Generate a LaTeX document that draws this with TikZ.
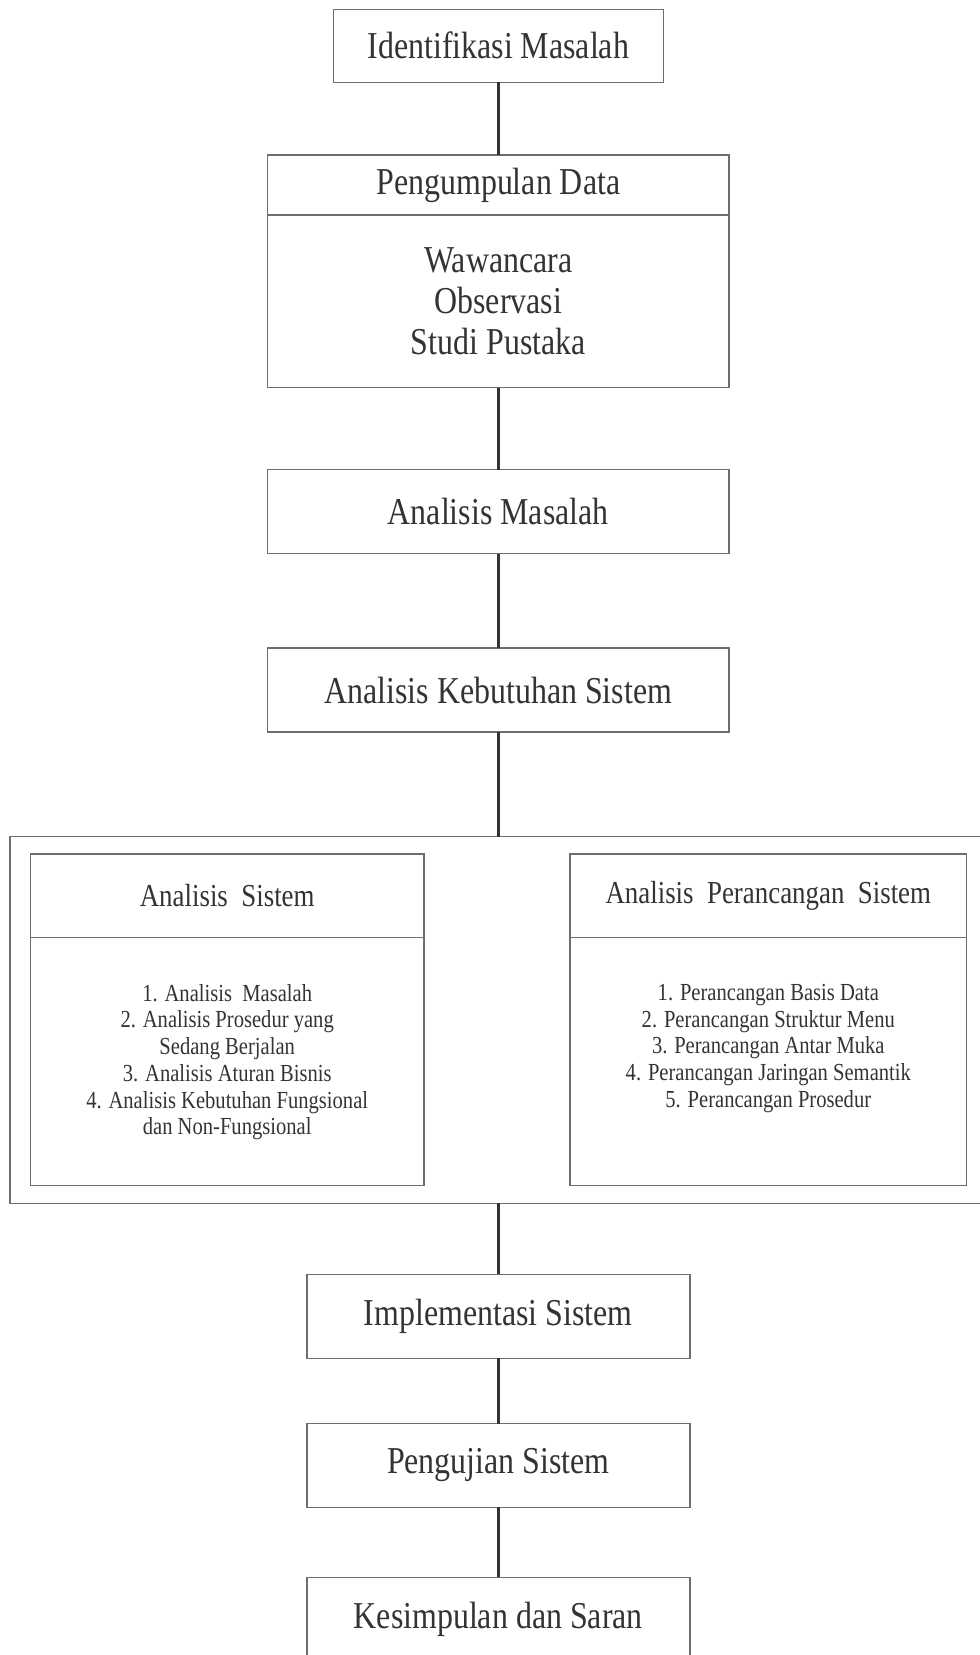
\documentclass[tikz,border=0pt]{standalone}
\usepackage{fontspec}
\setmainfont{Liberation Serif}[FakeStretch=0.84]
\definecolor{boxgray}{HTML}{6E6E6E}
\definecolor{inkgray}{HTML}{333333}
\newcommand{\midx}{498.3}

\begin{document}
\begin{tikzpicture}[x=1pt,y=-1pt,
  stage/.style={draw=boxgray,line width=1.5pt,inner sep=0pt,outer sep=0pt,text=inkgray,align=center,font=\fontsize{38}{40.7}\selectfont},
  subhead/.style={stage,font=\fontsize{32}{34}\selectfont},
  items/.style={inner sep=0pt,text=inkgray,align=center,font=\fontsize{24.5}{26.7}\selectfont},
  link/.style={draw=inkgray,line width=3pt}]
  \useasboundingbox (0,0) rectangle (980,1655);
  \clip (0,0) rectangle (980,1655);

  \node[stage,minimum width=330,minimum height=73] (identifikasi) at (\midx,45.8) {Identifikasi Masalah};
  \node[stage,minimum width=461.3,minimum height=60] (pengumpulan) at (\midx,185) {Pengumpulan Data};
  \node[stage,minimum width=461.3,minimum height=172.7] (metode) at (\midx,301.3) {Wawancara\\Observasi\\Studi Pustaka};
  \node[stage,minimum width=461.3,minimum height=84] (masalah) at (\midx,511.7) {Analisis Masalah};
  \node[stage,minimum width=461.3,minimum height=84] (kebutuhan) at (\midx,690) {Analisis Kebutuhan Sistem};

  \node[stage,minimum width=985,minimum height=366.6] (wadah) at (502.5,1020) {};
  \node[subhead,minimum width=393.7,minimum height=83.3] (sistemHead) at (227.2,895.7) {Analisis\ \ Sistem};
  \node[stage,minimum width=393.7,minimum height=248.4] (sistemBody) at (227.2,1061.5) {};
  \node[subhead,minimum width=396.7,minimum height=83.3] (rancangHead) at (768.3,895.7) {Analisis\ \ Perancangan\ \ Sistem};
  \node[stage,minimum width=396.7,minimum height=248.4] (rancangBody) at (768.3,1061.5) {};
  \node[items,anchor=north] (sistemList) at (227.2,984) {1. Analisis\ \ Masalah\\2. Analisis Prosedur yang\\Sedang Berjalan\\3. Analisis Aturan Bisnis\\4. Analisis Kebutuhan Fungsional\\dan Non-Fungsional};
  \node[items,anchor=north] (rancangList) at (768.3,984) {1. Perancangan Basis Data\\2. Perancangan Struktur Menu\\3. Perancangan Antar Muka\\4. Perancangan Jaringan Semantik\\5. Perancangan Prosedur};

  \node[stage,minimum width=383,minimum height=84] (implementasi) at (\midx,1316.3) {Implementasi Sistem};
  \node[stage,minimum width=383,minimum height=83.6] (pengujian) at (\midx,1465.5) {Pengujian Sistem};
  \node[stage,minimum width=383,minimum height=84] (kesimpulan) at (\midx,1619.3) {Kesimpulan dan Saran};

  \draw[link] (identifikasi.south) -- (pengumpulan.north);
  \draw[link] (metode.south) -- (masalah.north);
  \draw[link] (masalah.south) -- (kebutuhan.north);
  \draw[link] (kebutuhan.south) -- (kebutuhan.south |- wadah.north);
  \draw[link] (implementasi.north |- wadah.south) -- (implementasi.north);
  \draw[link] (implementasi.south) -- (pengujian.north);
  \draw[link] (pengujian.south) -- (kesimpulan.north);
\end{tikzpicture}
\end{document}
